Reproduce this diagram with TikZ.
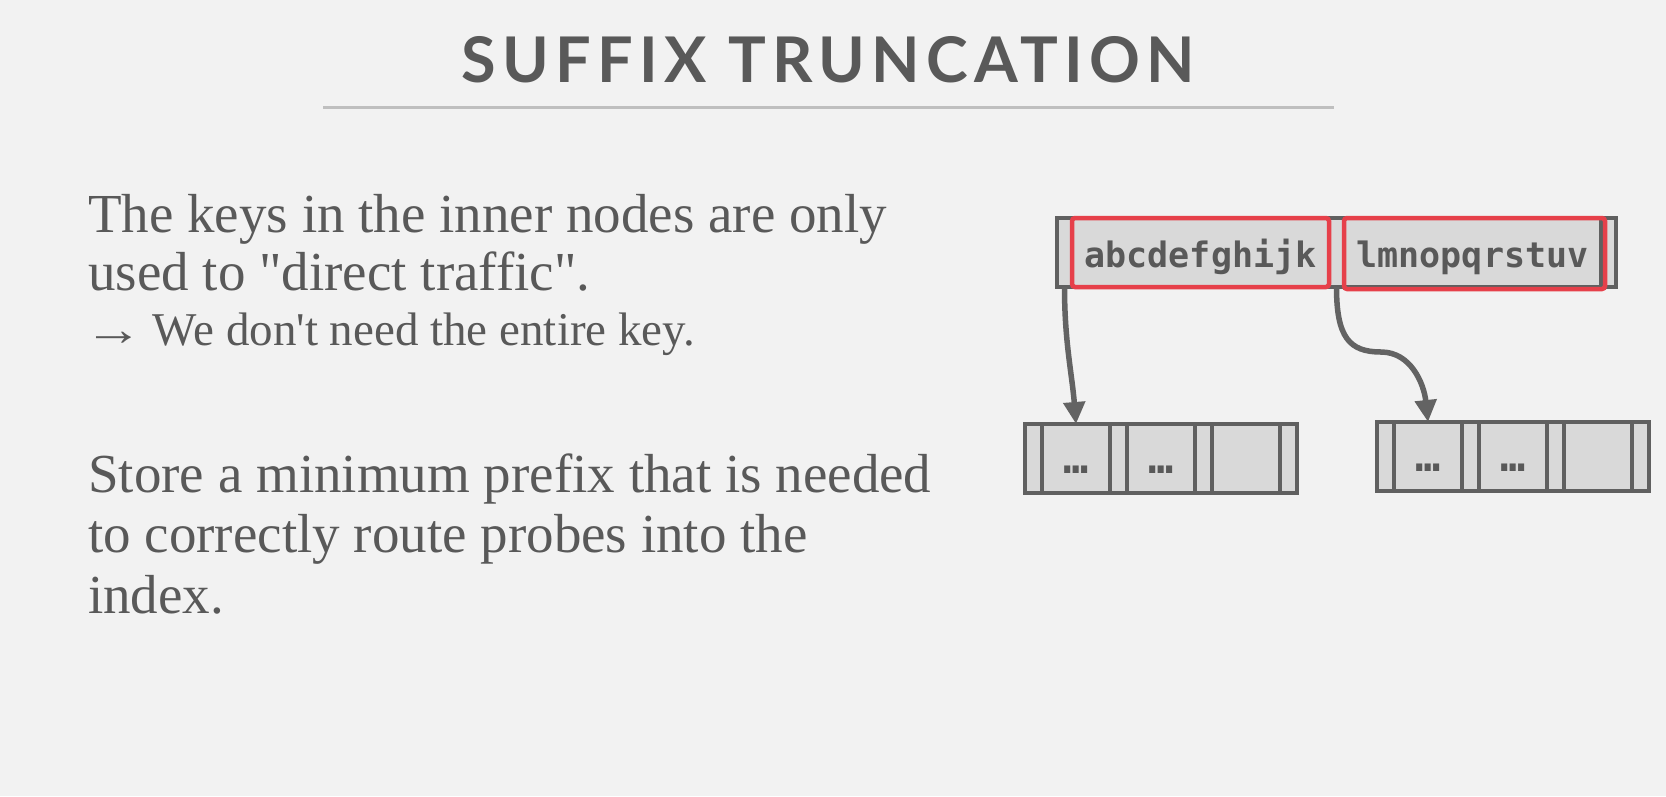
\documentclass[tikz,border=0pt]{standalone}
\usepackage{fontspec}
\setmainfont{Liberation Serif}[Ligatures=TeXOff]
\newfontfamily\keyfont{DejaVu Sans Mono}
\newfontfamily\titlefont{Lato}[LetterSpace=10]
\usepackage{xcolor}
\usepackage{graphicx}
\usepackage{tikz}
\usetikzlibrary{positioning,arrows.meta}

\definecolor{slidebg}{HTML}{F2F2F2}
\definecolor{inktext}{HTML}{595959}
\definecolor{cellfill}{HTML}{D9D9D9}
\definecolor{cellline}{HTML}{606060}
\definecolor{keyred}{HTML}{E6404A}
\definecolor{rulegray}{HTML}{BFBFBF}
\definecolor{ptrgray}{HTML}{636363}

\begin{document}
\begin{tikzpicture}[x=1pt,y=1pt,yscale=-1,xscale=1,
    ptrcell/.style={draw=cellline,fill=cellfill,line width=3.5pt,inner sep=0pt,outer sep=0pt,minimum height=69pt,minimum width=15pt},
    keycell/.style={ptrcell,minimum width=257pt,text height=49pt,text depth=20pt,text=inktext,font=\keyfont\bfseries\fontsize{35}{40}\selectfont},
    leafslot/.style={ptrcell,minimum width=17pt},
    leafkey/.style={keycell,minimum width=68pt,font=\keyfont\bfseries\fontsize{42}{46}\selectfont},
    keymark/.style={draw=keyred,line width=4.5pt,rounded corners=3pt},
    ptr/.style={draw=ptrgray,line width=5.5pt,-{Triangle[length=22pt,width=21pt]}},
    body/.style={inner sep=0pt,text height=42pt,text depth=13pt,text=inktext,font=\fontsize{55}{60}\selectfont},
    subline/.style={inner sep=0pt,text height=36pt,text depth=11pt,text=inktext,font=\fontsize{47}{50}\selectfont}]
    %set diagram to the slide size: 1666 x 796
    \fill[slidebg] (0,0) rectangle (1666,796);
    \useasboundingbox (0,0) rectangle (1666,796);

    % Title
    \node[anchor=base,inner sep=0pt,text=inktext,font=\titlefont\bfseries\fontsize{63}{68}\selectfont] (title) at (828,82) {SUFFIX TRUNCATION};
    %Straight Lines [rule under title]
    \draw[rulegray,line width=3pt] (323,107) -- (1334,107);

    % Text Node
    \node[body,anchor=base west] (keys1) at (88,232) {The keys in the inner nodes are only};
    % Text Node
    \node[body,anchor=base west] (keys2) at (88,290) {used to "direct traffic".};
    % Text Node
    \node[subline,anchor=base west] (keys3) at (84,345) {\scalebox{1.25}[1]{→}\hspace{10pt}We don't need the entire key.};
    % Text Node
    \node[body,anchor=base west] (store1) at (88,492) {Store a minimum prefix that is needed};
    % Text Node
    \node[body,anchor=base west] (store2) at (88,552) {to correctly route probes into the};
    % Text Node
    \node[body,anchor=base west] (store3) at (88,613) {index.};

    % Inner node
    \node[ptrcell,anchor=north west] (tp0) at (1057,218) {};
    \node[keycell,right=0pt of tp0] (tk0) {abcdefghijk};
    \node[ptrcell,right=0pt of tk0] (tp1) {};
    \node[keycell,right=0pt of tp1] (tk1) {lmnopqrstuv};
    \node[ptrcell,right=0pt of tk1] (tp2) {};

    % Left leaf
    \node[leafslot,anchor=north west] (lp0) at (1025,424) {};
    \node[leafkey,right=0pt of lp0] (lk0) {…};
    \node[leafslot,right=0pt of lk0] (lp1) {};
    \node[leafkey,right=0pt of lp1] (lk1) {…};
    \node[leafslot,right=0pt of lk1] (lp2) {};
    \node[leafkey,right=0pt of lp2] (lk2) {};
    \node[leafslot,right=0pt of lk2] (lp3) {};

    % Right leaf
    \node[leafslot,anchor=north west] (rp0) at (1377,422) {};
    \node[leafkey,right=0pt of rp0] (rk0) {…};
    \node[leafslot,right=0pt of rk0] (rp1) {};
    \node[leafkey,right=0pt of rp1] (rk1) {…};
    \node[leafslot,right=0pt of rk1] (rp2) {};
    \node[leafkey,right=0pt of rp2] (rk2) {};
    \node[leafslot,right=0pt of rk2] (rp3) {};

    % Red marks round the keys
    \draw[keymark] (tk0.north west) rectangle (tk0.south east);
    \draw[keymark] (tk1.north west) rectangle ([shift={(4,2)}]tk1.south east);

    % Pointers
    \draw[ptr] (tp0.south) .. controls +(0,55) and +(-4,-50) .. (lk0.north);
    \draw[ptr] (tp1.south) .. controls +(0,50) and +(-32,0) .. (1381,352) .. controls +(30,0) and +(-4,-38) .. (rk0.north);

\end{tikzpicture}
\end{document}
